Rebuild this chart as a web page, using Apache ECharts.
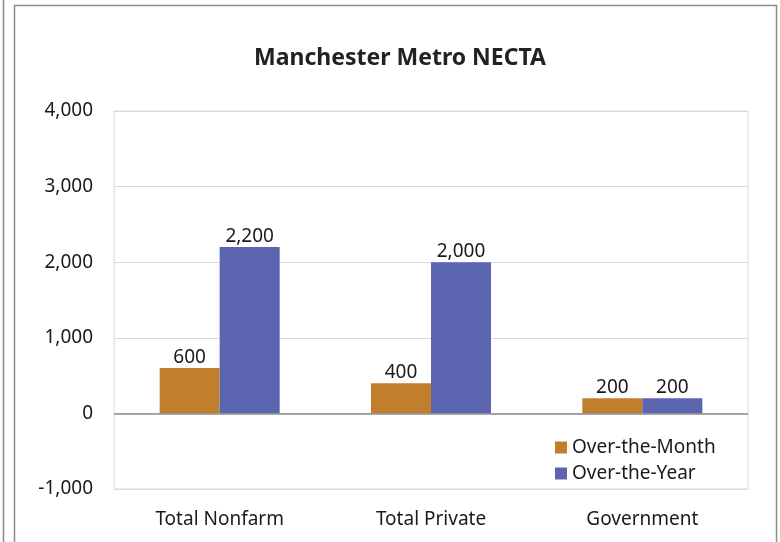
<!DOCTYPE html>
<html>
<head>
<meta charset="utf-8">
<script src="https://cdn.jsdelivr.net/npm/echarts@6/dist/echarts.min.js"></script>
<style>
	html, body { margin: 0; padding: 0; background: #fff; }
	#chart { width: 780px; height: 542px; }
</style>
</head>
<body>
<div id="chart"></div>
<script>
// 数据
var categories = [ 'Total Nonfarm', 'Total Private', 'Government' ];
var overMonth = [ 600, 400, 200 ];
var overYear = [ 2200, 2000, 200 ];
var seriesNames = [ 'Over-the-Month', 'Over-the-Year' ];

var FONT = '"Noto Sans", sans-serif';
var FS = 19;

function fmt(v) {
	return v.toString().replace(/\B(?=(\d{3})+(?!\d))/g, ',');
}

var chart = echarts.init(document.getElementById('chart'));

var option = {
	animation : false,
	backgroundColor : '#fff',
	textStyle : {
		fontFamily : FONT
	},
	title : {
		text : 'Manchester Metro NECTA',
		left : 395,
		textAlign : 'center',
		top : 42,
		textStyle : {
			fontFamily : FONT,
			fontSize : 23,
			fontWeight : 'bold',
			color : '#222'
		}
	},
	graphic : [ {
		type : 'line',
		silent : true,
		shape : { x1 : 3.5, y1 : 0, x2 : 3.5, y2 : 542 },
		style : { stroke : '#8c8c8c', lineWidth : 1.5 }
	}, {
		type : 'rect',
		silent : true,
		shape : { x : 14.5, y : 5.5, width : 762, height : 560 },
		style : { fill : null, stroke : '#8c8c8c', lineWidth : 1.5 }
	} ],
	grid : {
		left : 114,
		right : 32,
		top : 111,
		bottom : 53,
		show : true,
		borderColor : '#d9d9d9',
		borderWidth : 1
	},
	legend : {
		orient : 'vertical',
		left : 555,
		top : 438,
		itemWidth : 12,
		itemHeight : 12,
		itemGap : 7,
		backgroundColor : '#fff',
		padding : 0,
		icon : 'rect',
		textStyle : {
			fontFamily : FONT,
			fontSize : FS,
			color : '#1a1a1a'
		},
		data : seriesNames
	},
	xAxis : {
		type : 'category',
		data : categories,
		axisLine : { show : false, onZero : false },
		axisTick : { show : false },
		axisLabel : {
			margin : 21,
			fontFamily : FONT,
			fontSize : FS,
			color : '#1a1a1a'
		}
	},
	yAxis : {
		type : 'value',
		min : -1000,
		max : 4000,
		interval : 1000,
		axisLine : { show : false },
		axisTick : { show : false },
		axisLabel : {
			margin : 21,
			fontFamily : FONT,
			fontSize : FS,
			color : '#1a1a1a',
			formatter : fmt
		},
		splitLine : {
			lineStyle : { color : '#d9d9d9', width : 1 }
		}
	},
	series : [ {
		name : seriesNames[0],
		type : 'bar',
		data : overMonth,
		barWidth : 60,
		barGap : '0%',
		itemStyle : { color : '#c17f2e' },
		label : {
			show : true,
			position : 'top',
			distance : 1,
			fontFamily : FONT,
			fontSize : FS,
			color : '#1a1a1a',
			formatter : function(p) { return fmt(p.value); }
		},
		markLine : {
			silent : true,
			symbol : 'none',
			label : { show : false },
			lineStyle : { color : '#8c8c8c', type : 'solid', width : 1.5 },
			data : [ { yAxis : 0 } ]
		}
	}, {
		name : seriesNames[1],
		type : 'bar',
		data : overYear,
		barWidth : 60,
		itemStyle : { color : '#5b64ae' },
		label : {
			show : true,
			position : 'top',
			distance : 1,
			fontFamily : FONT,
			fontSize : FS,
			color : '#1a1a1a',
			formatter : function(p) { return fmt(p.value); }
		}
	} ]
};

chart.setOption(option);
</script>
</body>
</html>
